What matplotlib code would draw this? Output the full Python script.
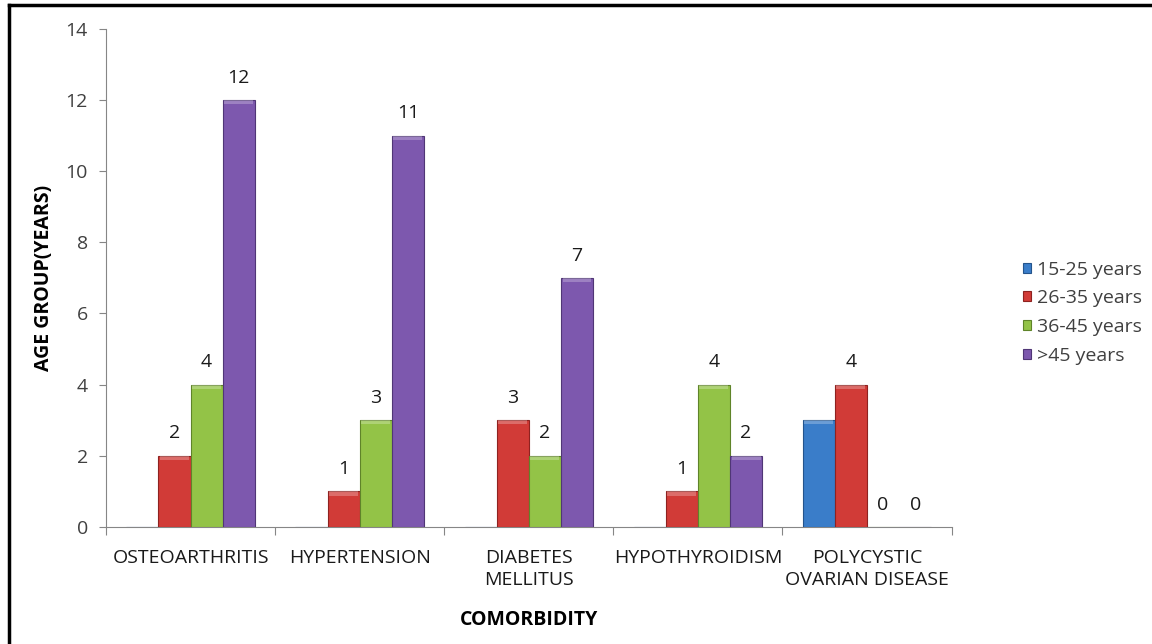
"""
Comorbidity by age group: grouped bar chart.
"""

import numpy as np
import matplotlib.pyplot as plt
from matplotlib.lines import Line2D


# ── Data ──────────────────────────────────────────────────────────────────────

categories = ["OSTEOARTHRITIS", "HYPERTENSION", "DIABETES\nMELLITUS",
              "HYPOTHYROIDISM", "POLYCYSTIC\nOVARIAN DISEASE"]
series_names = ["15-25 years", "26-35 years", "36-45 years", ">45 years"]

age_15_25 = [0, 0, 0, 0, 3]
age_26_35 = [2, 1, 3, 1, 4]
age_36_45 = [4, 3, 2, 4, 0]
age_45_up = [12, 11, 7, 2, 0]

# which series carry value labels in the original
labelled = [False, True, True, True]


# ── Style ─────────────────────────────────────────────────────────────────────

FONT = ["Open Sans", "DejaVu Sans"]
FS = 14
COLORS = ["#3A7DC9", "#D13B37", "#93C347", "#7D58AE"]
EDGES = ["#24548C", "#8E2220", "#5F8429", "#503676"]
AXIS_GREY = "#868686"
TEXT_GREY = "#404040"
BAR_W = 0.19

plt.rcParams["font.family"] = FONT


def main():
    values = [age_15_25, age_26_35, age_36_45, age_45_up]
    x = np.arange(len(categories))

    fig = plt.figure(figsize=(11.52, 6.44), dpi=100)
    ax = fig.add_axes([0.092, 0.182, 0.734, 0.773])

    handles = []
    for i, (vals, name) in enumerate(zip(values, series_names)):
        pos = x + (i - 1.5) * BAR_W
        bars = ax.bar(pos, vals, width=BAR_W, color=COLORS[i],
                      edgecolor=EDGES[i], linewidth=0.8, label=name, zorder=3)
        # lighter bevel on the top of each bar
        for b, v in zip(bars, vals):
            if v > 0:
                ax.bar(b.get_x() + b.get_width() / 2, 0.12, bottom=v - 0.12,
                       width=BAR_W * 0.9, color="white", alpha=0.25,
                       linewidth=0, zorder=4)
        if labelled[i]:
            for p, v in zip(pos, vals):
                ax.annotate(f"{v}", (p, v), xytext=(0, 16),
                            textcoords="offset points", ha="center",
                            va="center", fontsize=FS, color="#1a1a1a")
        handles.append(bars)

    ax.set_xlim(-0.5, len(categories) - 0.5)
    ax.set_ylim(0, 14)
    ax.set_yticks(range(0, 15, 2))
    ax.tick_params(axis="y", labelsize=FS, labelcolor=TEXT_GREY,
                   color=AXIS_GREY, length=5, pad=8)

    # category labels between boundary tick marks
    ax.set_xticks(np.arange(-0.5, len(categories), 1.0))
    ax.set_xticklabels([])
    ax.set_xticks(x, minor=True)
    ax.set_xticklabels(categories, minor=True, fontsize=FS, color="#1a1a1a",
                       linespacing=1.3)
    ax.tick_params(axis="x", which="major", color=AXIS_GREY, length=6)
    ax.tick_params(axis="x", which="minor", length=0, pad=16)

    for side in ["top", "right"]:
        ax.spines[side].set_visible(False)
    for side in ["left", "bottom"]:
        ax.spines[side].set_color(AXIS_GREY)

    ax.set_xlabel("COMORBIDITY", fontsize=FS, fontweight="bold", labelpad=15)
    ax.set_ylabel("AGE GROUP(YEARS)", fontsize=FS, fontweight="bold",
                  labelpad=8)

    ax.legend(handles=handles, loc="center left",
              bbox_to_anchor=(1.084, 0.43), frameon=False, fontsize=FS,
              borderpad=0, borderaxespad=0,
              handlelength=0.42, handleheight=0.42, handletextpad=0.3,
              labelspacing=0.55, labelcolor=TEXT_GREY)

    # outer frame (top and left edges visible)
    fig.add_artist(Line2D([0.008, 0.008], [0, 0.993], transform=fig.transFigure,
                          color="black", linewidth=2.5))
    fig.add_artist(Line2D([0.008, 1.0], [0.993, 0.993], transform=fig.transFigure,
                          color="black", linewidth=2.5))

    fig.savefig("out.png", dpi=100)


if __name__ == "__main__":
    main()
